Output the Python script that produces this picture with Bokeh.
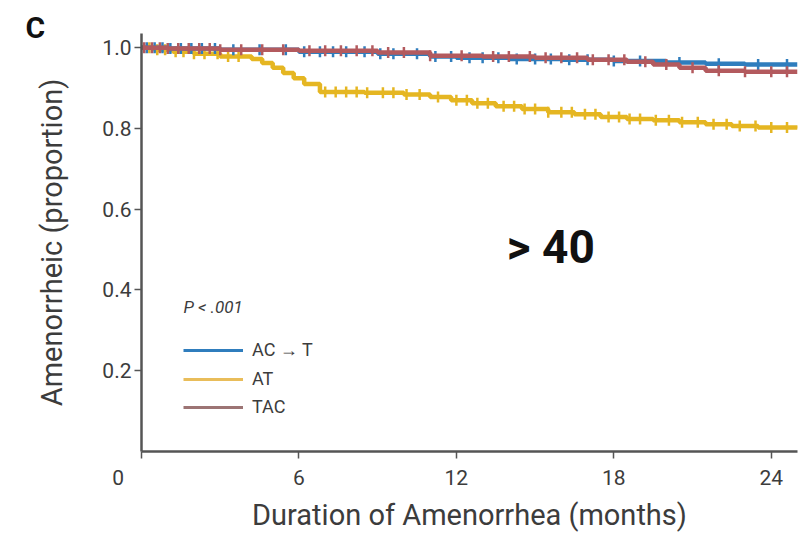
import numpy as np
from bokeh.plotting import figure
from bokeh.models import Range1d, FixedTicker, Label, Legend, LegendItem, PrintfTickFormatter
from bokeh.embed import file_html
from bokeh.resources import INLINE

# ---- data ----
at_times = [0, 0.5, 1.2, 2.0, 3.0, 4.2, 4.6, 5.0, 5.4, 5.8, 6.2, 6.8, 8.5, 10.0, 11.0, 11.8,
            12.6, 13.5, 14.5, 15.5, 16.5, 17.5, 18.5, 19.5, 20.5, 21.5, 22.5, 23.5, 25.0]
at_surv = [1.0, 0.995, 0.99, 0.985, 0.978, 0.972, 0.962, 0.95, 0.937, 0.924, 0.91, 0.89, 0.888,
           0.884, 0.878, 0.87, 0.862, 0.855, 0.848, 0.84, 0.835, 0.828, 0.823, 0.82, 0.815,
           0.81, 0.806, 0.802, 0.80]
act_times = [0, 1.0, 3.0, 6.0, 9.0, 11.0, 12.0, 14.0, 16.0, 18.0, 20.0, 21.5, 23.0, 25.0]
act_surv = [1.0, 0.998, 0.995, 0.99, 0.985, 0.978, 0.975, 0.972, 0.97, 0.967, 0.963, 0.96,
            0.958, 0.958]
tac_times = [0, 1.0, 3.0, 6.0, 9.0, 11.0, 13.0, 15.0, 17.0, 18.5, 19.5, 20.5, 21.5, 23.0, 25.0]
tac_surv = [1.0, 0.998, 0.995, 0.992, 0.988, 0.98, 0.978, 0.975, 0.97, 0.965, 0.958, 0.95,
            0.943, 0.94, 0.94]

at_censor = [0.3, 0.6, 0.9, 1.3, 1.6, 2.0, 2.4, 2.9, 3.3, 3.7, 7.0, 7.4, 7.8, 8.2, 8.6, 9.2,
             9.6, 10.1, 10.6, 11.3, 12.0, 12.4, 12.8, 13.2, 13.8, 14.2, 14.6, 15.0, 15.5, 16.0,
             16.4, 16.9, 17.3, 17.8, 18.2, 18.6, 19.0, 19.6, 20.1, 20.6, 21.2, 21.8, 22.3,
             22.8, 23.4, 24.0, 24.6]
act_censor = [0.2, 0.5, 0.8, 1.1, 1.5, 1.9, 2.3, 2.8, 3.5, 4.5, 5.5, 6.2, 6.8, 7.3, 7.8, 8.5,
              9.1, 9.6, 10.5, 11.2, 11.8, 12.5, 13.0, 13.6, 14.3, 15.0, 15.6, 16.3, 17.0,
              18.0, 19.0, 20.5, 22.0, 23.5, 24.6]
tac_censor = [0.1, 0.4, 0.7, 1.0, 1.4, 1.8, 2.2, 2.6, 3.0, 3.8, 4.6, 5.4, 6.4, 7.0, 7.6, 8.2,
              8.8, 9.4, 10.0, 11.0, 12.2, 13.4, 14.0, 14.8, 15.4, 16.0, 16.6, 17.2, 17.8,
              18.4, 19.2, 20.0, 21.0, 22.0, 23.0, 24.0, 24.6]

series_names = ["AC \u2192 T", "AT", "TAC"]
x_ticks = [0, 6, 12, 18, 24]
y_ticks = [0.2, 0.4, 0.6, 0.8, 1.0]
x_title = "Duration of Amenorrhea (months)"
y_title = "Amenorrheic (proportion)"
panel_letter = "C"

# ---- style ----
C_BLUE = "#2f7dbd"
C_GOLD = "#e5b622"
C_RED = "#b35a5e"
TXT = "#3c3c3c"
AX = "#555555"
FONT = "Roboto"

p = figure(width=802, height=534, output_backend="svg", toolbar_location=None,
           x_range=Range1d(0, 25.0), y_range=Range1d(0, 1.035),
           min_border_left=141, min_border_right=5, min_border_top=33, min_border_bottom=82)
p.outline_line_color = None
p.xgrid.visible = False
p.ygrid.visible = False

# panel letter as the figure title, pulled to the far left
p.title.text = panel_letter
p.title.align = "left"
p.title.offset = -116
p.title.standoff = -22
p.title.text_font = FONT
p.title.text_font_size = "30px"
p.title.text_font_style = "bold"
p.title.text_color = "#111111"


def censor_y(times, surv, cens):
    idx = np.searchsorted(np.array(times), np.array(cens), side="right") - 1
    return [surv[i] for i in idx]


r_at = p.step(at_times, at_surv, mode="after", line_color=C_GOLD, line_width=4.5)
p.scatter(at_censor, censor_y(at_times, at_surv, at_censor), marker="dash", angle=np.pi / 2,
          size=11, line_color=C_GOLD, line_width=2.5)
r_act = p.step(act_times, act_surv, mode="after", line_color=C_BLUE, line_width=4.5)
p.scatter(act_censor, censor_y(act_times, act_surv, act_censor), marker="dash", angle=np.pi / 2,
          size=11, line_color=C_BLUE, line_width=2.5)
r_tac = p.step(tac_times, tac_surv, mode="after", line_color=C_RED, line_width=4.5)
p.scatter(tac_censor, censor_y(tac_times, tac_surv, tac_censor), marker="dash", angle=np.pi / 2,
          size=11, line_color=C_RED, line_width=2.5)

# legend with thinner sample lines
l1 = p.line([np.nan], [np.nan], line_color=C_BLUE, line_width=3)
l2 = p.line([np.nan], [np.nan], line_color="#e9bd5a", line_width=3)
l3 = p.line([np.nan], [np.nan], line_color="#9c7474", line_width=3)
legend = Legend(items=[LegendItem(label=series_names[0], renderers=[l1]),
                       LegendItem(label=series_names[1], renderers=[l2]),
                       LegendItem(label=series_names[2], renderers=[l3])],
                location=(42, 34), glyph_width=60, glyph_height=20, label_height=20,
                spacing=7, padding=0, margin=0, label_standoff=9,
                label_text_font=FONT, label_text_font_size="18px", label_text_color=TXT,
                background_fill_alpha=0, border_line_alpha=0)
p.add_layout(legend, "center")

# axes
p.xaxis.ticker = FixedTicker(ticks=x_ticks)
p.yaxis.ticker = FixedTicker(ticks=y_ticks)
p.yaxis.formatter = PrintfTickFormatter(format="%.1f")
# the "0" label sits left of the corner in the reference: pad it with no-break spaces
p.xaxis.major_label_overrides = {0: "0" + "\u00a0" * 9}
p.xaxis.axis_label = x_title
p.yaxis.axis_label = y_title
for ax in (p.xaxis, p.yaxis):
    ax.axis_line_color = AX
    ax.axis_line_width = 2.5
    ax.major_tick_line_color = AX
    ax.major_tick_line_width = 1.5
    ax.major_tick_out = 7
    ax.major_tick_in = 0
    ax.minor_tick_line_color = None
    ax.major_label_text_font = FONT
    ax.major_label_text_font_size = "21px"
    ax.major_label_text_color = TXT
    ax.axis_label_text_font = FONT
    ax.axis_label_text_font_size = "29px"
    ax.axis_label_text_font_style = "normal"
    ax.axis_label_text_color = TXT
p.xaxis.major_label_standoff = 7
p.yaxis.major_label_standoff = 3
p.xaxis.axis_label_standoff = 5
p.yaxis.axis_label_standoff = 30

p.add_layout(Label(x=15.6, y=0.507, text="> 40", text_font=FONT, text_font_size="46px",
                   text_font_style="bold", text_color="#111111", text_align="center",
                   text_baseline="middle"))
p.add_layout(Label(x=1.6, y=0.357, text="P < .001", text_font=FONT, text_font_size="17px",
                   text_font_style="italic", text_color=TXT, text_align="left",
                   text_baseline="middle"))

open("out.html", "w").write(file_html(p, INLINE))
